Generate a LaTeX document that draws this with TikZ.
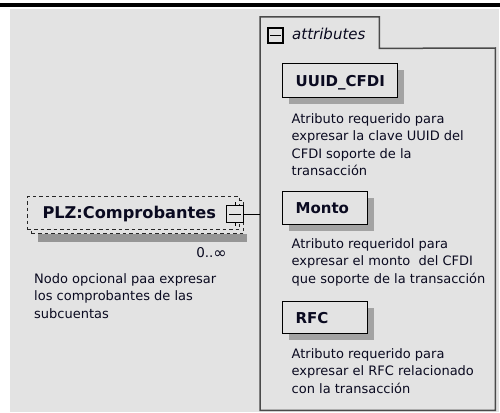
\documentclass[tikz,border=0pt]{standalone}
\usepackage{fontspec}
\setmainfont{DejaVu Sans}
\usetikzlibrary{shadows}
\definecolor{bgc}{HTML}{E3E3E3}
\definecolor{shd}{HTML}{A3A3A3}
\definecolor{shdplz}{HTML}{969696}
\definecolor{grpc}{HTML}{4A4A4A}
\definecolor{txtc}{HTML}{0A0A20}
\newcommand{\descfont}{\fontsize{13}{17.6}\selectfont}
\begin{document}
\begin{tikzpicture}[x=1pt,y=-1pt,
  attrbox/.style={draw=black, line width=1.3pt, fill=bgc, anchor=north west,
    inner xsep=13pt, inner ysep=0pt, align=left, text depth=0pt, text height=11pt,
    font=\bfseries\fontsize{15}{18}\selectfont, text=txtc,
    drop shadow={shadow xshift=6pt, shadow yshift=-6pt, fill=shd, opacity=1}},
  desc/.style={anchor=base west, inner sep=0pt, text=txtc, font=\descfont},
  minusbox/.style={draw=black, line width=1.6pt, fill=bgc, minimum size=#1,
    inner sep=0pt},
  dashbox/.style={draw=black!85, line width=1pt, dash pattern=on 3.5pt off 3pt,
    fill=bgc, anchor=north west, minimum width=212pt, minimum height=33pt,
    inner sep=0pt},
  grpline/.style={draw=grpc, line width=1.5pt},
]
\useasboundingbox (0,0) rectangle (500,412);
% frame
\fill[black] (0,3) rectangle (500,7);
\fill[bgc] (10,9) rectangle (499,412);

% group with tab
\node[minimum width=235pt, minimum height=362pt, inner sep=0pt, anchor=north west] (grp) at (260,48) {};
\node[minimum width=119pt, minimum height=31pt, inner sep=0pt, anchor=north west] (tab) at (260,17) {};
\draw[grpline] (grp.south west) -- (tab.north west) -- (tab.north east)
  -- (tab.south east) -- (grp.north east) -- (grp.south east) -- cycle;
\node[minusbox=15pt] (tabminus) at (275.5,35.5) {};
\draw[line width=1pt] ([xshift=3pt]tabminus.west) -- ([xshift=-3pt]tabminus.east);
\node[anchor=base west, inner sep=0pt, text=txtc,
  font=\itshape\fontsize{15}{18}\selectfont] (tablabel) at (292,39.5) {attributes};

% element PLZ:Comprobantes
\node[dashbox] (plzback) at (31,200) {};
\fill[shdplz] ([xshift=7pt]plzback.south west) rectangle ([xshift=3pt,yshift=-7.5pt]plzback.south east);
\node[dashbox, text=txtc, align=left, text width=182pt, inner xsep=15pt,
  text height=11.5pt, text depth=0pt,
  font=\bfseries\fontsize{16.2}{19}\selectfont] (plz) at (27,196) {PLZ:Comprobantes};
\node[minusbox=17pt] (plzminus) at (235,214) {};
\draw[line width=1pt] ([xshift=3.5pt]plzminus.west) -- ([xshift=-3.5pt]plzminus.east);
\draw[line width=1pt] (plzminus.north) -- ++(0,-3);
\draw[line width=1pt] (plzminus.south) -- ++(0,3);
\coordinate (grpin) at (grp.west |- plzminus.east);
\draw[line width=1pt] (plzminus.east) -- (grpin);
\node[anchor=base east, inner sep=0pt, text=txtc, font=\fontsize{13.5}{16}\selectfont] (mult) at (227,257.5) {0..\raisebox{-0.5pt}{\fontsize{16}{16}\selectfont ∞}};
\node[desc] (plzdesc) at (34,283) {\parbox[t]{220pt}{\raggedright
  Nodo opcional paa expresar\\los comprobantes de las\\subcuentas}};

% attributes
\node[attrbox, minimum width=115pt, minimum height=34pt, text width=89pt] (uuid) at (282,63) {UUID\_CFDI};
\node[desc] (uuiddesc) at (291.5,123) {\parbox[t]{200pt}{\raggedright
  Atributo requerido para\\expresar la clave UUID del\\CFDI soporte de la\\transacción}};

\node[attrbox, minimum width=85pt, minimum height=33pt, text width=59pt] (monto) at (282,191) {Monto};
\node[desc] (montodesc) at (291.5,248) {\parbox[t]{200pt}{\raggedright
  Atributo requeridol para\\expresar el monto\ \ del CFDI\\que soporte de la transacción}};

\node[attrbox, minimum width=85pt, minimum height=32pt, text width=59pt] (rfc) at (282,301) {RFC};
\node[desc] (rfcdesc) at (291.5,358) {\parbox[t]{200pt}{\raggedright
  Atributo requerido para\\expresar el RFC relacionado\\con la transacción}};
\end{tikzpicture}
\end{document}
